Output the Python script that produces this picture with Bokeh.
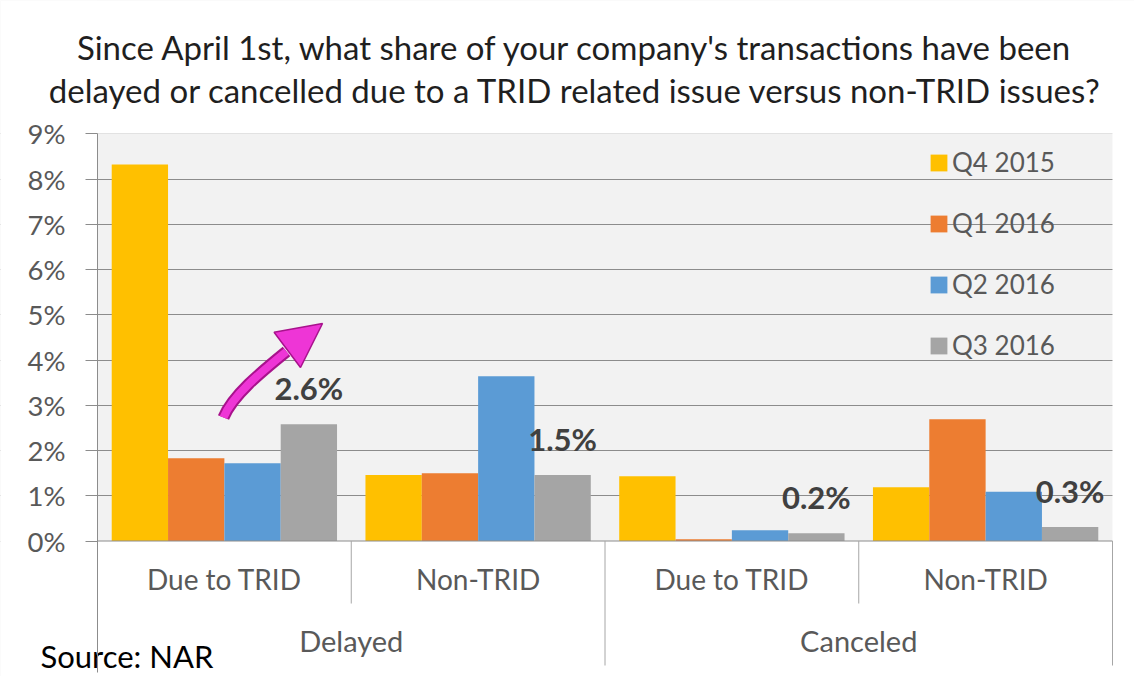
from bokeh.plotting import figure
from bokeh.models import (Range1d, ColumnDataSource, FixedTicker,
                          CustomJSTickFormatter, Arrow, NormalHead)
from bokeh.transform import dodge
from bokeh.core.properties import value
from bokeh.embed import file_html
from bokeh.resources import INLINE

# ---------------- data ----------------
groups = ["Delayed", "Delayed", "Canceled", "Canceled"]
subcats = ["Due to TRID", "Non-TRID", "Due to TRID", "Non-TRID"]
series = ["Q4 2015", "Q1 2016", "Q2 2016", "Q3 2016"]
q4_2015 = [8.32, 1.46, 1.43, 1.19]
q1_2016 = [1.83, 1.50, 0.04, 2.69]
q2_2016 = [1.72, 3.64, 0.24, 1.09]
q3_2016 = [2.58, 1.46, 0.17, 0.31]
y_ticks = [0, 1, 2, 3, 4, 5, 6, 7, 8, 9]
title_lines = ["Since April 1st, what share of your company's transactions have been",
               "delayed or cancelled due to a TRID related issue versus non-TRID issues?"]
source_note = "Source: NAR"

# ---------------- layout / style ----------------
W, H = 1134, 676
PLOT_LEFT, PLOT_RIGHT = 97, 1112      # px of plot area
ZERO_PX, TOP_PX = 540.5, 133.3        # px of 0% and 9%
n = len(subcats)
y_top = y_ticks[-1]
ux = (PLOT_RIGHT - PLOT_LEFT) / n
uy = (ZERO_PX - TOP_PX) / y_top
x_lo, x_hi = -PLOT_LEFT / ux, n + (W - PLOT_RIGHT) / ux
y_lo, y_hi = -(H - ZERO_PX) / uy, y_top + TOP_PX / uy

def px_x(px):
    return (px - PLOT_LEFT) / ux

def px_y(py):
    return (ZERO_PX - py) / uy

colors = ["#FFC000", "#ED7D31", "#5B9BD5", "#A5A5A5"]
FONT = "Lato"
GRID = "#8C8C8C"
SEP = "#A6A6A6"
TXT = "#595959"
offsets = [-0.333, -0.111, 0.111, 0.333]
bar_w = 0.222

centers = [i + 0.5 for i in range(n)]
src = ColumnDataSource(dict(
    xc=centers, sub=subcats,
    q4=q4_2015, q1=q1_2016, q2=q2_2016, q3=q3_2016,
    q3_label=[f"{v:.1f}%" for v in q3_2016],
))
cols = ["q4", "q1", "q2", "q3"]

p = figure(
    x_range=Range1d(x_lo, x_hi), y_range=Range1d(y_lo, y_hi),
    width=W, height=H,
    output_backend="svg", toolbar_location=None,
    x_axis_location=None, y_axis_location="left",
    min_border=0,
    background_fill_color="#F2F2F2", border_fill_color="white",
    outline_line_color=None, title=None,
)

# y axis pinned at the plot-area's left edge
p.yaxis.fixed_location = 0
p.yaxis.bounds = (px_y(672), y_top)
p.yaxis.ticker = FixedTicker(ticks=y_ticks)
p.yaxis.formatter = CustomJSTickFormatter(code="return tick + '%';")
p.yaxis.major_label_text_font = FONT
p.yaxis.major_label_text_font_size = "27.5px"
p.yaxis.major_label_text_color = TXT
p.yaxis.axis_line_color = GRID
p.yaxis.major_tick_line_color = GRID
p.yaxis.major_tick_out = 12
p.yaxis.major_tick_in = 0
p.yaxis.minor_tick_line_color = None
p.yaxis.major_label_standoff = 20
p.ygrid.ticker = FixedTicker(ticks=y_ticks)
p.ygrid.grid_line_color = GRID
p.ygrid.grid_line_width = 1
p.xgrid.visible = False

# white surroundings of the grey plot area (cover grid lines outside it)
p.quad(left=[x_lo, n, x_lo, x_lo], right=[0, x_hi, x_hi, x_hi],
       bottom=[y_lo, y_lo, y_top, y_lo], top=[y_hi, y_hi, y_hi, 0],
       fill_color="white", line_color=None)

# bars
for off, col, name, color in zip(offsets, cols, series, colors):
    p.vbar(x=dodge("xc", off), top=col, width=bar_w, source=src,
           fill_color=color, line_color=None, legend_label=name)

# zero line
p.segment(x0=[0], y0=[0], x1=[n], y1=[0], line_color=GRID, line_width=1)

# category separators below the axis
bounds = list(range(1, n + 1))
sep_bottom = [px_y(665) if (i == n - 1 or groups[i] != groups[i + 1]) else px_y(603)
              for i in range(n)]
p.segment(x0=bounds, y0=[0] * n, x1=bounds, y1=sep_bottom, line_color=SEP, line_width=1)

# category labels
p.text(x="xc", y=px_y(578), text="sub", source=src, text_align="center",
       text_baseline="middle", text_font=value(FONT), text_font_size=value("28px"),
       text_color=TXT)
top_groups = list(dict.fromkeys(groups))
group_x = [sum(c for c, g in zip(centers, groups) if g == tg) / groups.count(tg) for tg in top_groups]
p.text(x=group_x, y=[px_y(640)] * len(top_groups), text=top_groups, text_align="center",
       text_baseline="middle", text_font=value(FONT), text_font_size=value("29px"),
       text_color=TXT)

# data labels for Q3 2016
p.text(x=dodge("xc", offsets[3]), y="q3", text="q3_label", source=src,
       y_offset=-36, text_align="center", text_baseline="middle",
       text_font=value(FONT), text_font_size=value("31px"), text_font_style="bold",
       text_color="#404040")

# magenta trend arrow (decoration)
arrow_x = [px_x(223), px_x(232), px_x(260), px_x(286)]
arrow_y = [px_y(417), px_y(395), px_y(372), px_y(351)]
arrow_tip = (px_x(322), px_y(323))
for lw, lc in [(12, "#A8128C"), (8, "#EE35D6")]:
    p.bezier(x0=[arrow_x[0]], y0=[arrow_y[0]], cx0=[arrow_x[1]], cy0=[arrow_y[1]],
             cx1=[arrow_x[2]], cy1=[arrow_y[2]], x1=[arrow_x[3]], y1=[arrow_y[3]],
             line_color=lc, line_width=lw)
p.add_layout(Arrow(end=NormalHead(size=44, fill_color="#EE35D6", line_color="#A8128C",
                                  line_width=1.5),
                   x_start=arrow_x[3] - 0.01, y_start=arrow_y[3] - 0.02,
                   x_end=arrow_tip[0], y_end=arrow_tip[1], line_alpha=0))

# title and source note
p.text(x=[px_x(575)] * 2, y=[px_y(46), px_y(89)], text=title_lines, text_align="center",
       text_baseline="middle", text_font=value(FONT), text_font_size=value("33px"),
       text_color="#1F1F1F")
p.text(x=[px_x(40)], y=[px_y(655)], text=[source_note], text_align="left",
       text_baseline="middle", text_font=value(FONT), text_font_size=value("31px"),
       text_color="black")

# legend
lg = p.legend[0]
lg.location = (928, 315)
lg.glyph_width = 21
lg.glyph_height = 21
lg.label_height = 32
lg.spacing = 29
lg.label_standoff = 3
lg.padding = 0
lg.margin = 0
lg.border_line_alpha = 0
lg.background_fill_alpha = 0
lg.label_text_font = FONT
lg.label_text_font_size = "26px"
lg.label_text_color = TXT

open("out.html", "w").write(file_html(p, INLINE))
